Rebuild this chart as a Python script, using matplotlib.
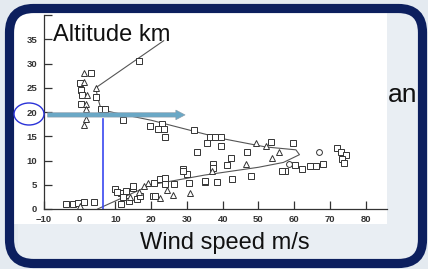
import matplotlib
matplotlib.use("Agg")
import matplotlib.pyplot as plt
from matplotlib.patches import FancyBboxPatch, Rectangle, Ellipse, FancyArrow
from matplotlib.transforms import IdentityTransform

plt.rcParams['font.family'] = ['Liberation Sans', 'DejaVu Sans']

# open squares
sq_x = [3.1, 0.0, 0.3, 0.5, 0.3, 4.5, 6.0, 7.0, 16.5, 12.0, 19.8, 23.0, 21.8, 23.5,
        32.0, 24.0, 36.6, 38.0, 39.4, 35.7, 39.4, 32.7, 46.9, 42.2, 37.2, 41.3, 47.8,
        35.2, 38.5, 42.7, 29.0, 30.0, 30.7, 53.4, 59.8, 72.0, 73.0, 74.5, 73.5, 74.0,
        60.3, 62.3, 64.5, 66.0, 68.0, 57.5, 56.5, -3.9, -2.0, -0.6, 1.1, 3.9, 10.0,
        11.5, 13.0, 14.8, 15.0, 11.5, 13.7, 16.0, 17.0, 20.7, 22.6, 24.0, 20.4, 21.2,
        24.0, 26.3, 28.8, 35.0, 37.4, 10.5, 12.0]
sq_y = [28.1, 26.0, 24.6, 23.5, 21.7, 23.0, 20.6, 20.6, 30.5, 18.4, 17.1, 17.5, 16.5, 16.5,
        16.3, 14.9, 14.9, 14.9, 14.9, 13.6, 13.0, 11.8, 11.8, 10.5, 9.3, 9.1, 6.8,
        5.6, 5.6, 6.2, 8.3, 7.2, 5.4, 13.8, 13.6, 12.6, 11.8, 11.2, 10.3, 9.5,
        9.1, 8.3, 8.9, 8.9, 9.3, 7.9, 7.9, 1.0, 1.0, 1.2, 1.4, 1.4, 4.1,
        3.3, 3.7, 4.3, 4.8, 1.0, 1.7, 2.0, 2.6, 5.4, 6.2, 6.4, 2.7, 2.7,
        5.2, 5.2, 7.9, 5.8, 8.5, 3.5, 2.5]

# open triangles
tri_x = [1.1, 1.1, 2.0, 1.7, 1.7, 4.5, 1.7, 1.1, 49.4, 46.4, 37.0, 31.0, 26.0, 24.5,
         52.2, 55.9, 53.9, 19.0, 22.6, 14.0, 16.5, 18.0, 0.0]
tri_y = [28.1, 26.2, 23.5, 21.7, 20.6, 25.0, 18.6, 17.4, 13.6, 9.3, 7.9, 3.3, 2.9, 3.9,
         13.0, 11.8, 10.5, 5.4, 2.3, 2.5, 3.5, 4.8, 0.6]

# open circles
circ_x = [67.0, 58.5]
circ_y = [11.8, 9.3]

# fitted profile
fit_x = [5, 20, 35, 50, 57, 61.5, 60.5, 52, 40, 30, 20, 10, 6, 5, 4.5, 23.5]
fit_y = [0, 5, 7, 8.6, 9.6, 11.2, 12.2, 12.8, 14.5, 16.4, 18.3, 19.8, 20.5, 23, 25, 34.7]

W, H = 428, 269
fig = plt.figure(figsize=(W / 100, H / 100), dpi=100, facecolor='#e4eaf0')

# slide frame
fig.patches.append(Rectangle((18, H - 262), 400, 250, transform=IdentityTransform(),
                             facecolor='#e9eef3', edgecolor='none', zorder=0))
fig.patches.append(Rectangle((13, H - 224), 374, 212, transform=IdentityTransform(),
                             facecolor='white', edgecolor='none', zorder=1))
fig.patches.append(FancyBboxPatch((9.5, H - 263.5), 413, 255,
                                  boxstyle="round,pad=0,rounding_size=24",
                                  transform=IdentityTransform(), facecolor='none',
                                  edgecolor='#0c1f5e', linewidth=6.6, zorder=2))

ax = fig.add_axes([44 / W, (H - 209) / H, (387 - 44) / W, (209 - 15) / H])
ax.set_facecolor('none')
ax.set_zorder(3)

ax.plot(fit_x, fit_y, color='#555555', lw=0.8)
ax.plot(sq_x, sq_y, 's', ms=4.0, mfc='white', mec='#333333', mew=0.7, ls='none')
ax.plot(tri_x, tri_y, '^', ms=4.4, mfc='white', mec='#333333', mew=0.7, ls='none')
ax.plot(circ_x, circ_y, 'o', ms=4.2, mfc='white', mec='#333333', mew=0.7, ls='none')

ax.set_xlim(-10, 86)
ax.set_ylim(0, 40)
ax.set_xticks(range(-10, 81, 10))
ax.set_xticklabels(['\u221210', '0', '10', '20', '30', '40', '50', '60', '70', '80'])
ax.set_yticks(range(0, 41, 5))
ax.set_yticklabels(['0', '5', '10', '15', '20', '25', '30', '35', ''])
for s in ['top', 'right']:
    ax.spines[s].set_visible(False)
for s in ['left', 'bottom']:
    ax.spines[s].set_color('#333333')
    ax.spines[s].set_linewidth(0.9)
ax.tick_params(direction='in', length=6, width=0.9, color='#333333',
               labelsize=6.8, labelcolor='#333333')
ax.tick_params(axis='x', pad=4)
ax.tick_params(axis='y', pad=5)
for lab in ax.get_xticklabels() + ax.get_yticklabels():
    lab.set_fontweight('bold')

# blue overlays
ax.plot([6.4, 6.4], [0, 18.6], color='#3a48f0', lw=1.2)
ax.add_patch(FancyArrow(-9, 19.4, 38.5, 0, width=0.9, head_width=2.0, head_length=2.6,
                        length_includes_head=True, facecolor='#6aa8c6',
                        edgecolor='#8a9aa8', lw=0.4, zorder=5))
fig.patches.append(Ellipse((29, H - 114), 30, 22, transform=IdentityTransform(),
                           facecolor='none', edgecolor='#2a32d8', lw=1.0, zorder=6))

fig.text(53 / W, (H - 35) / H, 'Altitude km', fontsize=17, color='#111111',
         ha='left', va='center', zorder=7)
fig.text(140 / W, (H - 243) / H, 'Wind speed m/s', fontsize=17, color='#111111',
         ha='left', va='center', zorder=7)
fig.text(388 / W, (H - 102) / H, 'an', fontsize=19, color='#111111',
         ha='left', va='baseline', zorder=7)

fig.savefig('out.png', dpi=100, facecolor=fig.get_facecolor())
